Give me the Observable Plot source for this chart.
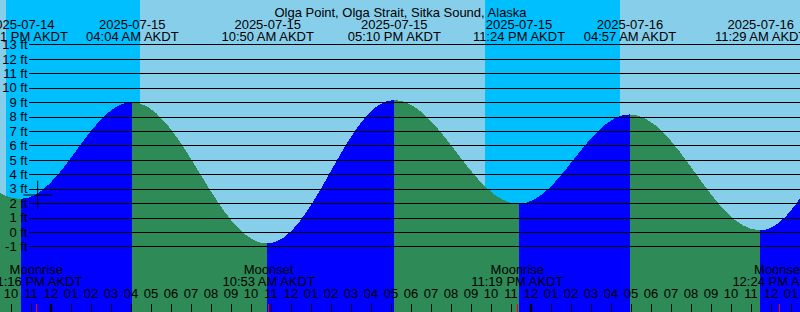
<!DOCTYPE html>
<html><head><meta charset="utf-8">
<script src="https://cdn.jsdelivr.net/npm/d3@7"></script>
<script src="https://cdn.jsdelivr.net/npm/@observablehq/plot@0.6"></script>
<style>
html,body{margin:0;padding:0;background:#87CEEB;overflow:hidden;}
#chart svg{display:block;}
</style></head><body><div id="chart"></div>
<script>
const stationName = "Olga Point, Olga Strait, Sitka Sound, Alaska";
// Tide extremes, AKDT wall-clock time, feet (first and last are off-screen)
const tideTimes = ["2025-07-14T16:10","2025-07-14T22:31","2025-07-15T04:04","2025-07-15T10:50","2025-07-15T17:10","2025-07-15T23:24","2025-07-16T04:57","2025-07-16T11:29","2025-07-16T17:35"];
const tideLevels = [8.6, 2.3, 9.0, -0.8, 9.15, 1.95, 8.15, 0.12, 9.3];
const tideShown = [false, true, true, true, true, true, true, true, false];
// Night (sun below horizon)
const nightStarts = ["2025-07-14T21:46","2025-07-15T21:42"];
const nightEnds = ["2025-07-15T04:28","2025-07-16T04:28"];
// Moon events
const moonTimes = ["2025-07-14T23:16","2025-07-15T10:53","2025-07-15T23:19","2025-07-16T12:24"];
const moonEvents = ["Moonrise","Moonset","Moonrise","Moonset"];
// Level gridlines (ft)
const levelTicks = [-1,0,1,2,3,4,5,6,7,8,9,10,11,12,13];
// Marker
const markTime = "2025-07-14T23:20";
const markLevel = 2.6;
// Scale domains
const xDomainStr = ["2025-07-14T21:28:30","2025-07-16T13:28:30"];
const yDomain = [-5.544, 16.078];

const P = s => new Date(s + "Z");
const xDomain = xDomainStr.map(P);
const hourTicks = d3.utcHour.range(d3.utcHour.ceil(xDomain[0]), xDomain[1]);
const midnightTicks = hourTicks.filter(d => d.getUTCHours() === 0);
const fmtDate = d3.utcFormat("%Y-%m-%d");
const fmtTime = d3.utcFormat("%I:%M %p AKDT");
const fmtHour = d3.utcFormat("%I");

const tideEvents = tideTimes.map((t, i) => ({t: P(t), v: tideLevels[i], shown: tideShown[i]}));
const segRows = [];
for (let i = 0; i < tideEvents.length - 1; i++) {
  const a = tideEvents[i], b = tideEvents[i + 1];
  const fill = b.v > a.v ? "#0000FF" : "#2E8B57";
  segRows.push({seg: i, t: a.t, v: a.v, fill}, {seg: i, t: b.t, v: b.v, fill});
}
const nights = nightStarts.map((s, i) => ({x1: P(s), x2: P(nightEnds[i])}));
const moons = moonTimes.map((t, i) => ({t: P(t), name: moonEvents[i]}));
const labelled = tideEvents.filter(d => d.shown);

// half-cosine-like tide curve between extremes (horizontal tangents)
class TideCurve {
  constructor(c) { this._context = c; }
  areaStart() { this._line = 0; }
  areaEnd() { this._line = NaN; }
  lineStart() { this._point = 0; }
  lineEnd() { if (this._line || (this._line !== 0 && this._point === 1)) this._context.closePath(); this._line = 1 - this._line; }
  point(x, y) {
    x = +x; y = +y;
    if (this._point === 0) { this._point = 1; this._line ? this._context.lineTo(x, y) : this._context.moveTo(x, y); }
    else { this._point = 2; const k = 0.3634 * (x - this._x); this._context.bezierCurveTo(this._x + k, this._y, x - k, y, x, y); }
    this._x = x; this._y = y;
  }
}
const curveTide = c => new TideCurve(c);

const F = 13;
const chart = Plot.plot({
  width: 800, height: 312,
  marginTop: 0, marginRight: 0, marginBottom: 0, marginLeft: 0,
  style: {background: "#87CEEB", overflow: "hidden", fontFamily: "'Liberation Sans', Arial, sans-serif", fontSize: "13px", color: "black"},
  x: {type: "utc", domain: xDomain, range: [0, 800], axis: null},
  y: {domain: yDomain, range: [312, 0], axis: null},
  color: {type: "identity"},
  marks: [
    Plot.rect(nights, {x1: "x1", x2: "x2", fill: "#00BFFF", shapeRendering: "crispEdges"}),
    Plot.areaY(segRows, {x: "t", y1: yDomain[0], y2: "v", z: "seg", fill: "fill", curve: curveTide, shapeRendering: "crispEdges"}),
    Plot.ruleY(levelTicks, {y: d => d, stroke: "black", insetLeft: 29, shapeRendering: "crispEdges"}),
    Plot.text(levelTicks, {y: d => d, text: d => `${d} ft`, frameAnchor: "left", dx: 27, textAnchor: "end", fontSize: F, fill: "black"}),
    Plot.text([stationName], {text: d => d, frameAnchor: "top", dy: 7.5, fontSize: F, fill: "black"}),
    Plot.text(labelled, {x: "t", text: d => fmtDate(d.t), frameAnchor: "top", dy: 19.3, fontSize: F, fill: "black"}),
    Plot.text(labelled, {x: "t", text: d => fmtTime(d.t), frameAnchor: "top", dy: 31.5, fontSize: F, fill: "black"}),
    Plot.text(moons, {x: "t", text: "name", frameAnchor: "bottom", dy: -38.5, fontSize: F, fill: "black"}),
    Plot.text(moons, {x: "t", text: d => fmtTime(d.t), frameAnchor: "bottom", dy: -26.2, fontSize: F, fill: "black"}),
    Plot.text(hourTicks, {x: d => d, text: d => fmtHour(d), frameAnchor: "bottom", dy: -14.5, fontSize: F, fill: "black"}),
    Plot.ruleX(hourTicks, {x: d => d, insetTop: 304, stroke: "black", strokeWidth: 1, shapeRendering: "crispEdges"}),
    Plot.ruleX(midnightTicks, {x: d => d, insetTop: 304, stroke: "black", strokeWidth: 2.5}),
    Plot.ruleX(moons, {x: "t", insetTop: 304, stroke: "red", strokeWidth: 1, shapeRendering: "crispEdges"}),
    Plot.dot([{t: P(markTime), v: markLevel}], {x: "t", y: "v", symbol: "plus", r: 9.2, stroke: "black", strokeWidth: 1})
  ]
});
document.getElementById("chart").appendChild(chart);
</script>
</body></html>
